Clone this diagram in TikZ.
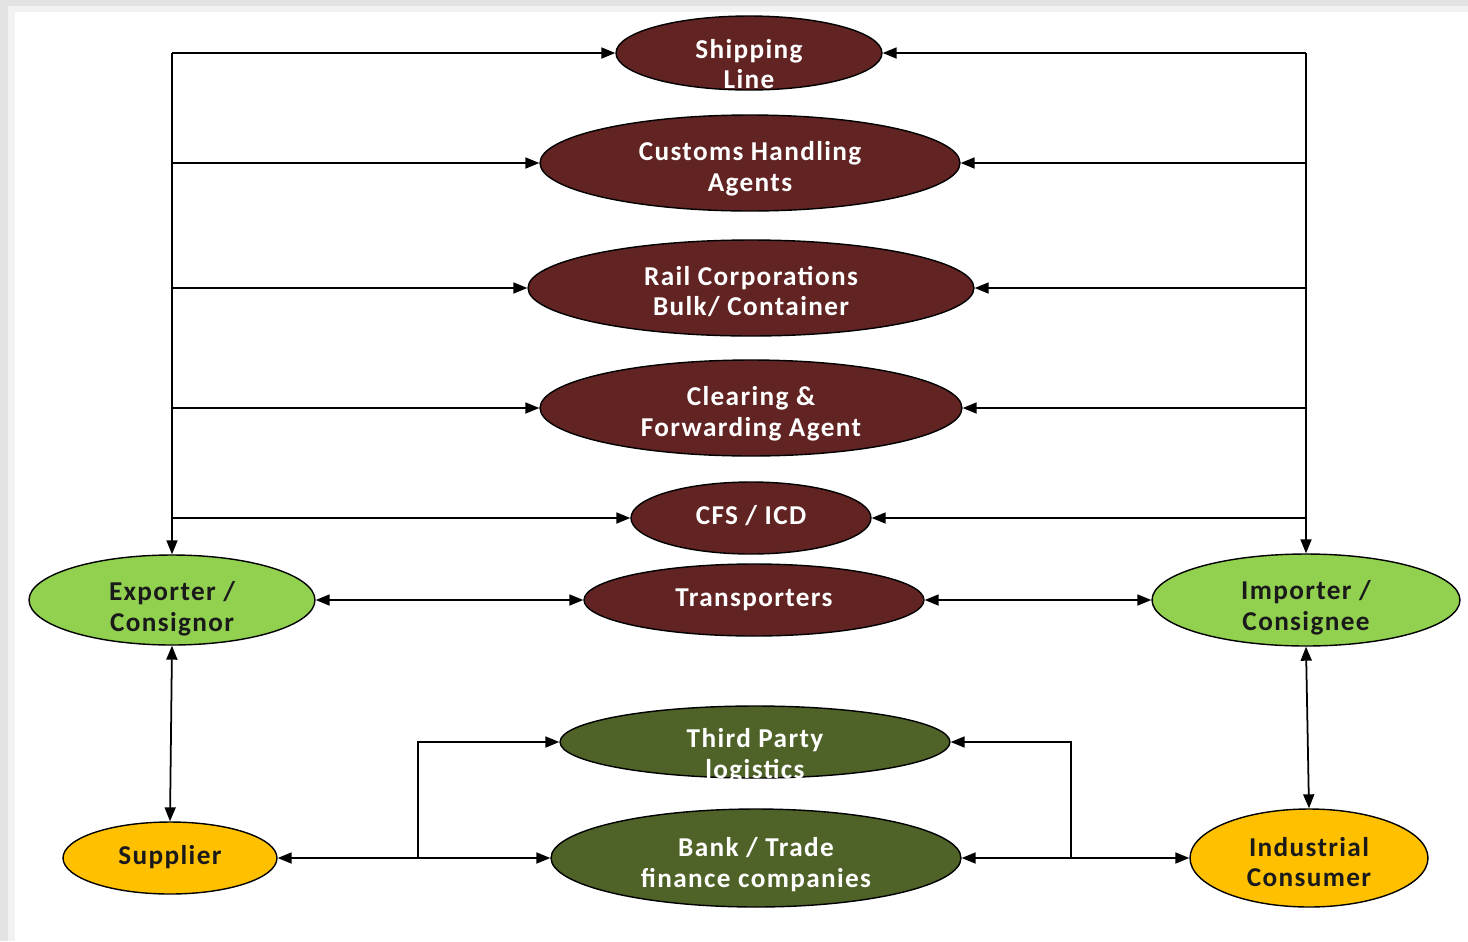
\documentclass[tikz,border=0pt]{standalone}
\usepackage{fontspec}
\setmainfont[LetterSpace=5]{Carlito}
\usetikzlibrary{shapes.geometric,arrows.meta}
\definecolor{maroon}{HTML}{622323}
\definecolor{lgreen}{HTML}{92D050}
\definecolor{dgreen}{HTML}{4F6228}
\definecolor{gold}{HTML}{FFC000}
\definecolor{ink}{HTML}{1A1A1A}
\tikzset{
  ell/.style={ellipse, draw=black, line width=0.8pt, inner sep=0pt},
  mnode/.style={ell, fill=maroon},
  gnode/.style={ell, fill=lgreen},
  dnode/.style={ell, fill=dgreen},
  ynode/.style={ell, fill=gold},
  txt/.style={align=center, inner sep=0pt,
    font=\fontsize{15.5}{17.6}\selectfont\bfseries},
  wtxt/.style={txt, text=white},
  btxt/.style={txt, text=ink},
  arr/.style={line width=1pt, -{Triangle[length=0.28cm,width=0.22cm]}},
  arrb/.style={line width=1pt, {Triangle[length=0.28cm,width=0.22cm]}-{Triangle[length=0.28cm,width=0.22cm]}}
}
\begin{document}
\begin{tikzpicture}[x=0.02cm,y=-0.02cm]
% page frame
\fill[gray!22] (0,0) rectangle (1468,941);
\fill[gray!10] (8,6) rectangle (1468,941);
\fill[white] (15,12) rectangle (1468,941);
\useasboundingbox (0,0) rectangle (1468,941);

% maroon service nodes
\node[mnode, minimum width=5.32cm, minimum height=1.48cm] (ship) at (749,53) {};
\node[wtxt] (shipT) at (749,64) {Shipping\\Line};
\node[mnode, minimum width=8.4cm, minimum height=1.92cm] (cust) at (750,163) {};
\node[wtxt] (custT) at (750,168.5) {Customs Handling\\Agents};
\node[mnode, minimum width=8.92cm, minimum height=1.92cm] (rail) at (751,288) {};
\node[wtxt] (railT) at (751,291.5) {Rail Corporations\\Bulk/ Container};
\node[mnode, minimum width=8.44cm, minimum height=1.92cm] (clear) at (751,408) {};
\node[wtxt] (clearT) at (751,414) {Clearing \&\\Forwarding Agent};
\node[mnode, minimum width=4.8cm, minimum height=1.44cm] (cfs) at (751,518) {};
\node[wtxt] (cfsT) at (751,516) {CFS / ICD};
\node[mnode, minimum width=6.8cm, minimum height=1.44cm] (trans) at (754,600) {};
\node[wtxt] (transT) at (754,600) {Transporters};

% parties
\node[gnode, minimum width=5.72cm, minimum height=1.8cm] (exp) at (172,600) {};
\node[btxt] (expT) at (172,609) {Exporter /\\Consignor};
\node[gnode, minimum width=6.16cm, minimum height=1.84cm] (imp) at (1306,600) {};
\node[btxt] (impT) at (1306,608) {Importer /\\Consignee};
\node[ynode, minimum width=4.28cm, minimum height=1.44cm] (sup) at (170,858) {};
\node[btxt] (supT) at (170,857) {Supplier};
\node[ynode, minimum width=4.76cm, minimum height=1.96cm] (ind) at (1309,858) {};
\node[btxt] (indT) at (1309,862) {Industrial\\Consumer};

% green service nodes
\node[dnode, minimum width=7.8cm, minimum height=1.44cm] (tpl) at (755,742) {};
\node[wtxt] (tplT) at (755,756) {Third Party\\logistics};
\node[dnode, minimum width=8.2cm, minimum height=1.96cm] (bank) at (756,858) {};
\node[wtxt] (bankT) at (756,864.5) {Bank / Trade\\finance companies};

% buses
\coordinate (L0) at (172,53);
\coordinate (R0) at (1306,53);
\draw[arr] (L0) -- (exp.north);
\draw[arr] (R0) -- (imp.north);
\foreach \n in {ship,cust,rail,clear,cfs}{
  \draw[arr] (\n.west -| L0) -- (\n.west);
  \draw[arr] (\n.east -| R0) -- (\n.east);
}

% transporters
\draw[arrb] (exp.east) -- (trans.west);
\draw[arrb] (trans.east) -- (imp.west);

% vertical links
\draw[arrb] (exp.south) -- (sup.north);
\draw[arrb] (imp.south) -- (ind.north);

% bottom
\coordinate (BL) at (418,858);
\coordinate (BR) at (1071,858);
\draw[arrb] (sup.east) -- (bank.west);
\draw[arr] (BL) |- (tpl.west);
\draw[arrb] (bank.east) -- (ind.west);
\draw[arr] (BR) |- (tpl.east);
\end{tikzpicture}
\end{document}
